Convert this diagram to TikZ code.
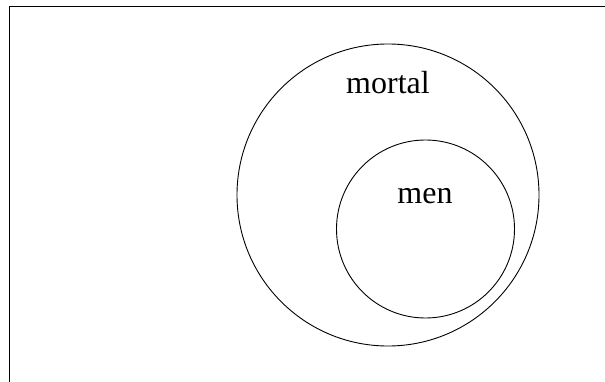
\documentclass[tikz,border=0pt]{standalone}
\usepackage{fontspec}
\setmainfont{Liberation Serif}
\begin{document}
\begin{tikzpicture}[x=1pt,y=-1pt,
  ring/.style={draw=black,line width=0.9pt},
  lbl/.style={font=\fontsize{32}{38}\selectfont,anchor=base,inner sep=0pt},
  frameline/.style={draw=black,line width=1pt}]
\useasboundingbox (0,0) rectangle (605,382);
\coordinate (tl) at (9,7);
\coordinate (tr) at (605,7);
\coordinate (bl) at (9,382);
\draw[frameline] (tr) -- (tl) -- (bl);
\node[ring,circle,minimum size=302pt,inner sep=0pt] (mortalset) at (388,195) {};
\node[ring,circle,minimum size=178pt,inner sep=0pt] (menset) at (425.5,229) {};
\node[lbl] (mortal) at (388,94) {mortal};
\node[lbl] (men) at (425,204) {men};
\end{tikzpicture}
\end{document}
